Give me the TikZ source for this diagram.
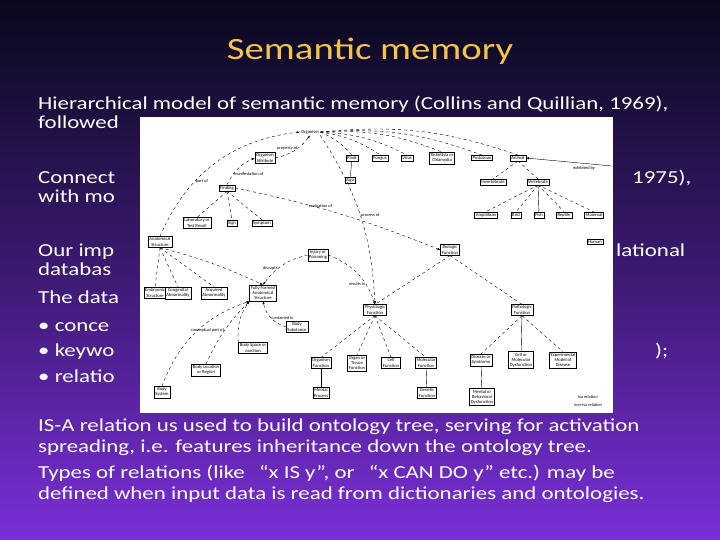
\documentclass[tikz,border=0pt]{standalone}
\usepackage{fontspec}
\setmainfont{Carlito}
\newfontfamily\widefont[FakeStretch=1.25]{Carlito}
\usetikzlibrary{arrows.meta,shadows}
\definecolor{topc}{HTML}{08081C}
\definecolor{botc}{HTML}{7A2FD8}
\definecolor{titc}{HTML}{F2C44A}
\begin{document}
\begin{tikzpicture}[x=1pt,y=-1pt,
  body/.style={anchor=base west,text=white,font=\widefont\fontsize{18.3}{20}\selectfont,inner sep=0},
  n/.style={draw,thin,font=\fontsize{4.6}{5.2}\selectfont,align=center,inner sep=1.2pt,fill=white},
  isa/.style={thin},
  rel/.style={thin,dashed,-{Latex[length=3pt]}},
  lb/.style={font=\fontsize{4.4}{5}\selectfont,inner sep=0.5pt}]
\useasboundingbox (0,0) rectangle (720,540);
\shade[top color=topc,bottom color=botc,middle color=topc!55!botc] (0,0) rectangle (720,540);
\node[text=titc,font=\widefont\fontsize{31}{36}\selectfont] (title) at (370,51) {Semantic memory};
\node[body] (t1) at (38,110) {Hierarchical model of semantic memory (Collins and Quillian, 1969),};
\node[body] (t2) at (38,129) {followed};
\node[body] (t3) at (38,184) {Connect};
\node[body] (t3b) at (632,184) {1975),};
\node[body] (t4) at (38,203) {with mo};
\node[body] (t5) at (38,256) {Our imp};
\node[body] (t5b) at (616,256) {lational};
\node[body] (t6) at (38,275) {databas};
\node[body] (t7) at (38,303) {The data};
\node[body] (t8) at (38,331) {\textbullet\ conce};
\node[body] (t9) at (38,356) {\textbullet\ keywo};
\node[body] (t9b) at (655,356) {);};
\node[body] (t10) at (38,382) {\textbullet\ relatio};
\node[body] (t11) at (38,431) {IS-A relation us used to build ontology tree, serving for activation};
\node[body] (t12) at (38,452) {spreading, i.e. features inheritance down the ontology tree.};
\node[body] (t13) at (38,478) {Types of relations (like \enspace“x IS y”, or \enspace“x CAN DO y” etc.) may be};
\node[body] (t14) at (38,499) {defined when input data is read from dictionaries and ontologies.};
% diagram panel
\fill[white] (140,117) rectangle (613,413);
\node[n,draw=none] (org) at (310,132) {Organism};
\node[n] (oatt) at (265,158) {Organism\\Attribute};
\node[n] (plant) at (352,158) {Plant};
\node[n] (fung) at (380,158) {Fungus};
\node[n] (vir) at (407,158) {Virus};
\node[n] (rick) at (442,158) {Rickettsia or\\Chlamydia};
\node[n] (prot) at (482,158) {Protozoan};
\node[n] (anim) at (518,158) {Animal};
\coordinate (exr) at (612,166);
\node[lb] at (584,168) {exhibited by};
\node[n] (alga) at (350,180) {Alga};
\node[n] (inv) at (493,182) {Invertebrate};
\node[n] (vert) at (538,182) {Vertebrate};
\node[n] (amph) at (486,215) {Amphibian};
\node[n] (bird) at (516,215) {Bird};
\node[n] (fish) at (539,215) {Fish};
\node[n] (rept) at (564,215) {Reptile};
\node[n] (mamm) at (594,215) {Mammal};
\node[n] (hum) at (595,242) {Human};
\node[n] (dis) at (227,188) {Finding};
\node[n] (lab) at (197,223) {Laboratory or\\Test Result};
\node[n] (sign) at (232,223) {Sign};
\node[n] (symp) at (262,223) {Symptom};
\node[n] (anat) at (160,242) {Anatomical\\Structure};
\node[n] (inj) at (318,255) {Injury or\\Poisoning};
\node[n] (bio) at (450,250) {Biologic\\Function};
\node[n] (emb) at (155,293) {Embryonic\\Structure};
\node[n] (cong) at (178,293) {Congenital\\Abnormality};
\node[n] (acq) at (214,293) {Acquired\\Abnormality};
\node[n] (ffas) at (263,293) {Fully Formed\\Anatomical\\Structure};
\node[n] (bsub) at (297,327) {Body\\Substance};
\node[n] (bsj) at (253,348) {Body Space or\\Junction};
\node[n] (blr) at (206,370) {Body Location\\or Region};
\node[n] (bsys) at (162,392) {Body\\System};
\node[n] (phys) at (375,310) {Physiologic\\Function};
\node[n] (path) at (522,310) {Pathologic\\Function};
\node[n] (orgf) at (321,363) {Organism\\Function};
\node[n] (otf) at (357,363) {Organ or\\Tissue\\Function};
\node[n] (cellf) at (391,363) {Cell\\Function};
\node[n] (molf) at (426,363) {Molecular\\Function};
\node[n] (ment) at (321,393) {Mental\\Process};
\node[n] (gen) at (427,393) {Genetic\\Function};
\node[n] (dsyn) at (481,360) {Disease or\\Syndrome};
\node[n] (cmd) at (521,360) {Cell or\\Molecular\\Dysfunction};
\node[n] (emod) at (563,360) {Experimental\\Model of\\Disease};
\node[n] (mbd) at (482,397) {Mental or\\Behavioral\\Dysfunction};
\node[lb] (leg1) at (588,397) {isa relation};
\node[lb] (leg2) at (588,405) {non-isa relation};
% isa edges
\draw[isa] (plant) -- (alga);
\draw[isa] (vert) -- (fish);
\draw[isa] (orgf) -- (ment);
\draw[isa] (molf) -- (gen);
\draw[isa] (dsyn) -- (mbd);
\draw[isa] (path) -- (cmd);
% dashed hierarchy
\foreach \c in {plant,fung,vir,rick,prot,anim}{\draw[thin,dashed] (org.east) to[bend left=12] (\c.north);}
\foreach \c in {inv,vert}{\draw[thin,dashed] (anim.south) -- (\c.north);}
\foreach \c in {amph,bird,rept,mamm}{\draw[thin,dashed] (vert.south) -- (\c.north);}
\foreach \c in {lab,sign,symp}{\draw[thin,dashed] (dis.south) -- (\c.north);}
\foreach \c in {emb,cong,acq}{\draw[thin,dashed] (anat.south) -- (\c.north);}
\draw[rel] (anat.south) to[bend left=5] (ffas.north);
\foreach \c in {phys,path}{\draw[thin,dashed] (bio.south) -- (\c.north);}
\foreach \c in {orgf,otf,cellf,molf}{\draw[thin,dashed] (phys.south) -- (\c.north);}
\foreach \c in {dsyn,emod}{\draw[thin,dashed] (path.south) -- (\c.north);}
% relations
\draw[thin,-{Latex[length=3pt]}] (exr) -- (anim.east);
\draw[rel] (oatt.east) to[bend right=20] node[lb,pos=0.6,left]{property of} (org.south);
\draw[rel] (dis.north) to[bend left=20] node[lb,pos=0.3,right]{manifestation of} (oatt.west);
\draw[rel] (anat.north) to[bend left=30] node[lb,pos=0.35,right]{part of} (org.west);
\draw[rel] (dis.east) to[bend left=5] node[lb,pos=0.4,above]{evaluation of} (bio.west);
\draw[rel] (org.south east) to[bend left=15] node[lb,pos=0.5,right]{process of} (phys.north);
\draw[rel] (inj.west) to[bend right=20] node[lb,pos=0.6,left]{disrupts} (ffas.north);
\draw[rel] (inj.east) to[bend left=25] node[lb,pos=0.7,left]{results in} (phys.north);
\draw[rel] (bsub.west) to[bend left=30] node[lb,pos=0.5,right]{contained in} (ffas.south);
\draw[rel] (bsj.north west) to[bend left=20] (ffas.south west);
\draw[rel] (blr.north) to[bend left=10] node[lb,pos=0.5,left]{conceptual part of} (ffas.south west);
\draw[rel] (bsys.north) to[bend left=25] (ffas.south west);
\end{tikzpicture}
\end{document}
